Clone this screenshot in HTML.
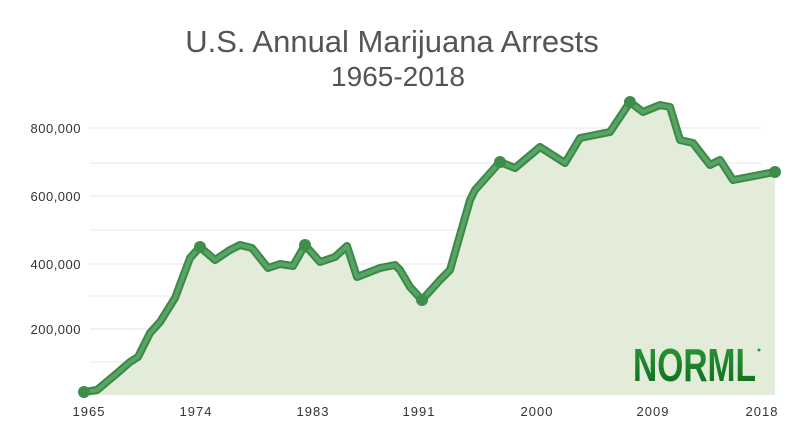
<!DOCTYPE html>
<html><head><meta charset="utf-8"><style>
html,body{margin:0;padding:0;background:#fff;}
svg{display:block;}
</style></head><body>
<svg width="800" height="440" viewBox="0 0 800 440" xmlns="http://www.w3.org/2000/svg">
<defs>
<linearGradient id="lg" x1="0" y1="0" x2="0" y2="1"><stop offset="0" stop-color="#2f9a3a"/><stop offset="1" stop-color="#0d6a1c"/></linearGradient>
</defs>
<text x="392" y="52" font-family="Liberation Sans, sans-serif" font-size="31" fill="#555" text-anchor="middle">U.S. Annual Marijuana Arrests</text>
<text x="398" y="86" font-family="Liberation Sans, sans-serif" font-size="28" fill="#555" text-anchor="middle">1965-2018</text>
<g stroke="#ececec" stroke-width="1.2">
<line x1="90" y1="128" x2="762" y2="128"/>
<line x1="90" y1="163" x2="762" y2="163"/>
<line x1="90" y1="196" x2="762" y2="196"/>
<line x1="90" y1="230" x2="762" y2="230"/>
<line x1="90" y1="264" x2="762" y2="264"/>
<line x1="90" y1="296" x2="762" y2="296"/>
<line x1="90" y1="329" x2="762" y2="329"/>
<line x1="90" y1="362" x2="762" y2="362"/>
</g>
<g font-family="Liberation Sans, sans-serif" font-size="13" fill="#333" text-anchor="end" letter-spacing="0.5">
<text x="81" y="133">800,000</text>
<text x="81" y="201">600,000</text>
<text x="81" y="269">400,000</text>
<text x="81" y="334">200,000</text>
</g>
<g font-family="Liberation Sans, sans-serif" font-size="13" fill="#333" text-anchor="middle" letter-spacing="1">
<text x="89" y="416">1965</text>
<text x="196" y="416">1974</text>
<text x="313" y="416">1983</text>
<text x="419" y="416">1991</text>
<text x="537" y="416">2000</text>
<text x="653" y="416">2009</text>
<text x="762" y="416">2018</text>
</g>
<path d="M84,392 L97,390 L115,375 L130,362 L138,357 L150,333 L160,322 L175,298 L190,258 L200,247 L215,260 L230,250 L240,245 L252,248 L268,268 L280,264 L293,266 L305,245 L320,262 L335,257 L347,246 L357,277 L380,268 L395,265 L400,270 L410,287 L422,300 L440,280 L450,270 L470,200 L475,190 L500,162 L515,168 L540,147 L565,163 L580,138 L610,132 L630,102 L643,112 L660,105 L670,107 L680,140 L693,143 L710,165 L720,160 L733,180 L775,172 L775,395 L84,395 Z" fill="#e3ecd8"/>
<polyline points="84,392 97,390 115,375 130,362 138,357 150,333 160,322 175,298 190,258 200,247 215,260 230,250 240,245 252,248 268,268 280,264 293,266 305,245 320,262 335,257 347,246 357,277 380,268 395,265 400,270 410,287 422,300 440,280 450,270 470,200 475,190 500,162 515,168 540,147 565,163 580,138 610,132 630,102 643,112 660,105 670,107 680,140 693,143 710,165 720,160 733,180 775,172" fill="none" stroke="#3d8748" stroke-width="8" stroke-linejoin="round" stroke-linecap="round"/>
<polyline points="84,392 97,390 115,375 130,362 138,357 150,333 160,322 175,298 190,258 200,247 215,260 230,250 240,245 252,248 268,268 280,264 293,266 305,245 320,262 335,257 347,246 357,277 380,268 395,265 400,270 410,287 422,300 440,280 450,270 470,200 475,190 500,162 515,168 540,147 565,163 580,138 610,132 630,102 643,112 660,105 670,107 680,140 693,143 710,165 720,160 733,180 775,172" fill="none" stroke="#56a563" stroke-width="4" stroke-linejoin="round" stroke-linecap="round"/>
<g fill="#3f8d4b">
<circle cx="84" cy="392" r="6"/><circle cx="200" cy="247" r="6"/><circle cx="305" cy="245" r="6"/>
<circle cx="422" cy="300" r="6"/><circle cx="500" cy="162" r="6"/><circle cx="630" cy="102" r="6"/><circle cx="775" cy="172" r="6"/>
</g>
<text x="633" y="381" font-family="Liberation Sans, sans-serif" font-weight="bold" font-size="46" fill="url(#lg)" textLength="123" lengthAdjust="spacingAndGlyphs">NORML</text>
<circle cx="759" cy="350" r="1.5" fill="#2f9a3a"/>
</svg>
</body></html>
